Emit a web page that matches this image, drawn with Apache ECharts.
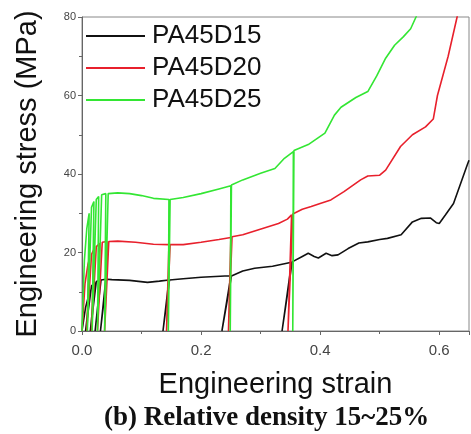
<!DOCTYPE html>
<html>
<head>
<meta charset="utf-8">
<script src="https://cdn.jsdelivr.net/npm/echarts@6/dist/echarts.min.js"></script>
<style>
  html, body { margin: 0; padding: 0; background: #fff; }
  #main { width: 471px; height: 434px; }
</style>
</head>
<body>
<div id="main"></div>
<script>
// legend names
var seriesNames = ['PA45D15', 'PA45D20', 'PA45D25'];

// [strain, stress (MPa)], loops included
var pa45d15 = [
  [0, 0], [0.006, 6], [0.012, 9.5], [0.014, 10.5], [0.006, 0], [0.016, 11.5], [0.022, 12.3],
  [0.014, 0], [0.024, 12.6], [0.031, 13], [0.022, 0], [0.032, 13], [0.040, 13.2], [0.031, 0],
  [0.041, 13.2], [0.05, 13.1], [0.08, 12.9], [0.11, 12.4], [0.13, 12.7], [0.146, 13], [0.136, 0],
  [0.147, 13], [0.17, 13.3], [0.2, 13.7], [0.24, 14], [0.25, 14], [0.235, 0], [0.251, 14],
  [0.27, 15.3], [0.29, 16], [0.32, 16.5], [0.352, 17.5], [0.336, 0], [0.353, 17.6], [0.37, 19],
  [0.38, 19.8], [0.39, 19], [0.397, 18.6], [0.41, 19.8], [0.42, 19.2], [0.43, 19.4], [0.447, 21],
  [0.465, 22.4], [0.48, 22.7], [0.5, 23.3], [0.513, 23.6], [0.536, 24.5], [0.555, 27.8],
  [0.57, 28.7], [0.585, 28.8], [0.595, 27.6], [0.6, 27.4], [0.61, 29.5], [0.624, 32.5],
  [0.647, 42.3], [0.65, 43.5]
];
var pa45d20 = [
  [0, 0], [0.005, 12], [0.01, 17], [0.012, 18], [0.008, 0], [0.016, 19.5], [0.02, 20.8],
  [0.016, 0], [0.024, 21.5], [0.03, 22.3], [0.026, 0], [0.034, 22.6], [0.042, 22.8], [0.038, 0],
  [0.045, 22.8], [0.06, 22.9], [0.09, 22.6], [0.12, 22.1], [0.146, 22], [0.142, 0], [0.148, 22],
  [0.17, 22], [0.2, 22.6], [0.23, 23.3], [0.25, 23.8], [0.246, 0], [0.252, 24], [0.27, 24.5],
  [0.29, 25.5], [0.33, 27.4], [0.345, 28.5], [0.352, 29.6], [0.346, 0], [0.354, 29.8], [0.37, 31],
  [0.385, 31.7], [0.4, 32.5], [0.418, 33.4], [0.44, 35.5], [0.468, 38.5], [0.48, 39.5],
  [0.5, 39.7], [0.51, 41], [0.535, 47], [0.555, 50], [0.577, 52], [0.59, 54], [0.597, 60],
  [0.615, 70], [0.63, 80], [0.633, 82]
];
var pa45d25 = [
  [0, 0], [0.004, 18], [0.008, 26], [0.012, 30], [0.009, 0], [0.016, 31.5], [0.02, 33],
  [0.017, 0], [0.024, 33.5], [0.028, 34.3], [0.026, 0], [0.033, 34.7], [0.04, 35], [0.038, 0],
  [0.044, 35], [0.06, 35.2], [0.08, 35], [0.1, 34.5], [0.12, 33.8], [0.146, 33.5], [0.145, 0],
  [0.148, 33.5], [0.17, 34], [0.2, 35], [0.23, 36.2], [0.25, 37], [0.249, 0], [0.251, 37.2],
  [0.27, 38.5], [0.3, 40.2], [0.324, 41.4], [0.34, 44], [0.355, 45.7], [0.354, 0], [0.356, 46],
  [0.38, 47.5], [0.408, 50.4], [0.424, 55], [0.435, 57], [0.46, 59.5], [0.48, 61], [0.495, 65],
  [0.51, 69.5], [0.525, 72.8], [0.54, 75], [0.552, 77], [0.561, 80], [0.563, 81]
];

// axis ticks
var strainTicks = [0, 0.2, 0.4, 0.6];
var stressTicks = [0, 20, 40, 60, 80];

var lineColors = ['#111111', '#e8202c', '#33e633'];

var chart = echarts.init(document.getElementById('main'));

var option = {
  animation: false,
  title: {
    text: '(b) Relative density 15~25%',
    left: 104,
    top: 405,
    padding: 0,
    textStyle: { fontFamily: 'Liberation Serif', fontWeight: 'bold', fontSize: 27, color: '#111' }
  },
  legend: {
    orient: 'vertical',
    left: 86,
    top: 23,
    padding: 0,
    icon: 'rect',
    itemWidth: 59,
    itemHeight: 2,
    itemGap: 6,
    data: seriesNames,
    textStyle: { fontFamily: 'Liberation Sans', fontSize: 26, color: '#111', padding: [0, 0, 0, 2] }
  },
  grid: {
    left: 82, right: 2, top: 17, bottom: 103,
    show: true, borderColor: '#888', borderWidth: 1
  },
  xAxis: {
    type: 'value',
    min: 0,
    max: 0.65,
    interval: 0.2,
    name: 'Engineering strain',
    nameLocation: 'middle',
    nameGap: 39,
    nameTextStyle: { fontFamily: 'Liberation Sans', fontSize: 29, color: '#111' },
    axisLine: { lineStyle: { color: '#666' } },
    axisTick: { length: 4, lineStyle: { color: '#666' } },
    minorTick: { show: true, splitNumber: 2, length: 3, lineStyle: { color: '#666' } },
    splitLine: { show: false },
    axisLabel: {
      showMaxLabel: false,
      margin: 12,
      fontFamily: 'Liberation Sans', fontSize: 15, color: '#444',
      formatter: function (v) { return strainTicks.indexOf(v) >= 0 ? v.toFixed(1) : ''; }
    }
  },
  yAxis: {
    type: 'value',
    min: 0,
    max: 80,
    interval: 20,
    name: 'Engineering stress (MPa)',
    nameLocation: 'middle',
    nameGap: 40,
    nameTextStyle: { fontFamily: 'Liberation Sans', fontSize: 29, color: '#111' },
    axisLine: { show: true, lineStyle: { color: '#666' } },
    axisTick: { show: true, length: 4, lineStyle: { color: '#666' } },
    minorTick: { show: true, splitNumber: 2, length: 3, lineStyle: { color: '#666' } },
    splitLine: { show: false },
    axisLabel: {
      margin: 6,
      fontFamily: 'Liberation Sans', fontSize: 11, color: '#444',
      formatter: function (v) { return stressTicks.indexOf(v) >= 0 ? String(v) : ''; }
    }
  },
  series: [
    { name: seriesNames[0], type: 'line', data: pa45d15 },
    { name: seriesNames[1], type: 'line', data: pa45d20 },
    { name: seriesNames[2], type: 'line', data: pa45d25 }
  ].map(function (s, i) {
    s.symbol = 'none';
    s.color = lineColors[i];
    s.lineStyle = { width: 1.6, color: lineColors[i] };
    return s;
  })
};

chart.setOption(option);
</script>
</body>
</html>
